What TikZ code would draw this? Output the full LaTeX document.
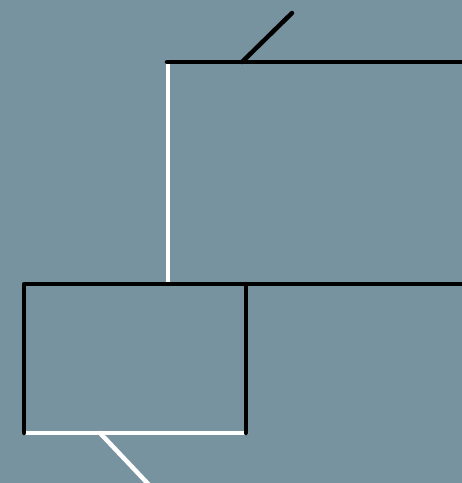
\documentclass[tikz,border=0pt]{standalone}
\definecolor{bg}{RGB}{119,147,159}
\tikzset{
  blk/.style={draw=black,line width=4.5pt,line cap=round,line join=round},
  wht/.style={draw=white,line width=4.5pt,line cap=round,line join=round}
}
\begin{document}
\begin{tikzpicture}[x=1pt,y=-1pt]
\fill[bg] (0,0) rectangle (462,483);
\useasboundingbox (0,0) rectangle (462,483);
\coordinate (tl) at (167,62);
\coordinate (tr) at (466,62);
\coordinate (d1) at (242,62);
\coordinate (d2) at (292,13);
\coordinate (wt) at (168,62);
\coordinate (wv) at (168,283);
\coordinate (ml) at (24,284);
\coordinate (mr) at (466,284);
\coordinate (bl) at (24,433);
\coordinate (br) at (246,433);
\coordinate (mb) at (246,284);
\coordinate (w1) at (100,433);
\coordinate (w2) at (152,488);
% white lines
\draw[wht] (wt) -- (wv);
\draw[wht] (bl) -- (br);
\draw[wht] (w1) -- (w2);
% black lines
\draw[blk] (tl) -- (tr);
\draw[blk] (d1) -- (d2);
\draw[blk] (bl) -- (ml) -- (mr);
\draw[blk] (mb) -- (br);
\end{tikzpicture}
\end{document}
